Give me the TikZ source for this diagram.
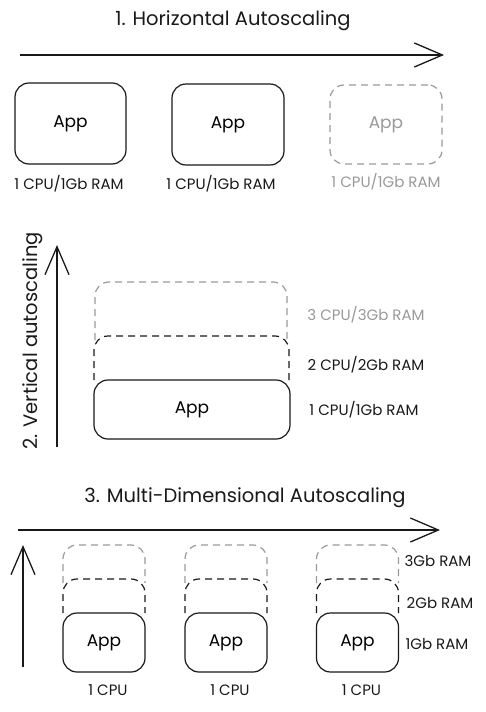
\documentclass[tikz,border=0pt]{standalone}
\usepackage{fontspec}
\setmainfont{Poppins}
\usepackage{tikz}
\usepackage{xcolor}
\definecolor{GhostGray}{rgb}{0.6,0.6,0.6}
\definecolor{InkBlack}{rgb}{0.1,0.1,0.1}
\usetikzlibrary{arrows.meta}

\begin{document}
\begin{tikzpicture}[x=1pt,y=-1pt,
  appbox/.style={draw=InkBlack, line width=1.2pt, rounded corners=14pt, font=\fontsize{17}{19}\selectfont},
  ghostbox/.style={draw=GhostGray, text=GhostGray, dash pattern=on 7pt off 5pt, line width=1.2pt, rounded corners=14pt, font=\fontsize{17}{19}\selectfont},
  ghostline/.style={draw=GhostGray, dash pattern=on 7pt off 5pt, line width=1.2pt, rounded corners=14pt},
  inkline/.style={draw=InkBlack, dash pattern=on 7pt off 5pt, line width=1.2pt, rounded corners=14pt},
  axis/.style={draw=InkBlack, line width=1.3pt, -{Straight Barb[length=28pt,width=24pt]}},
  lbl/.style={text=InkBlack, font=\fontsize{15}{17}\selectfont},
  ttl/.style={text=InkBlack, font=\fontsize{19.5}{22}\selectfont}]
\useasboundingbox (0,0) rectangle (486,712);

% 1. horizontal
\node[ttl] (ttl1) at (233,21) {1. Horizontal Autoscaling};
\coordinate (h0) at (20,55);
\coordinate (h1) at (444,55);
\draw[axis] (h0) -- (h1);

\node[appbox, minimum width=111pt, minimum height=81pt] (happ1) at (70.5,123.5) {App};
\node[appbox, minimum width=112pt, minimum height=81pt] (happ2) at (228,124.5) {App};
\node[ghostbox, minimum width=112pt, minimum height=79pt] (happ3) at (386,124.5) {App};
\node[lbl] (hcap1) at (69,184) {1 CPU/1Gb RAM};
\node[lbl] (hcap2) at (221,184) {1 CPU/1Gb RAM};
\node[lbl, text=GhostGray] (hcap3) at (386,182) {1 CPU/1Gb RAM};

% 2. vertical
\coordinate (v0) at (57,447);
\coordinate (v1) at (57,245);
\draw[axis] (v0) -- (v1);
\node[ttl, rotate=90] (ttl2) at (33,341) {2. Vertical autoscaling};

\draw[ghostline] (95,340) -- (95,282) -- (287,282) -- (287,340);
\draw[inkline] (94,380) -- (94,336) -- (289,336) -- (289,380);
\node[appbox, minimum width=196pt, minimum height=59pt] (vapp) at (192,409.5) {App};
\node[lbl, text=GhostGray] (vcap3) at (366,315) {3 CPU/3Gb RAM};
\node[lbl] (vcap2) at (366,365) {2 CPU/2Gb RAM};
\node[lbl] (vcap1) at (364,410) {1 CPU/1Gb RAM};

% 3. multi-dimensional
\node[ttl] (ttl3) at (245,498) {3. Multi-Dimensional Autoscaling};
\coordinate (m0) at (18,530);
\coordinate (m1) at (440,530);
\draw[axis] (m0) -- (m1);
\coordinate (n0) at (23,667);
\coordinate (n1) at (23,545);
\draw[axis] (n0) -- (n1);

\foreach \i/\x in {1/104, 2/226, 3/357.5} {
  \draw[ghostline] (\x-41,583) -- (\x-41,545) -- (\x+41,545) -- (\x+41,583);
  \draw[inkline] (\x-41,613) -- (\x-41,579) -- (\x+41,579) -- (\x+41,613);
  \node[appbox, minimum width=82pt, minimum height=59pt] (mapp\i) at (\x,642.5) {App};
  \node[lbl] (mcap\i) at (\x+4,690) {1 CPU};
}
\node[lbl] (ram3) at (438,561) {3Gb RAM};
\node[lbl] (ram2) at (440,603) {2Gb RAM};
\node[lbl] (ram1) at (437,644) {1Gb RAM};
\end{tikzpicture}
\end{document}
